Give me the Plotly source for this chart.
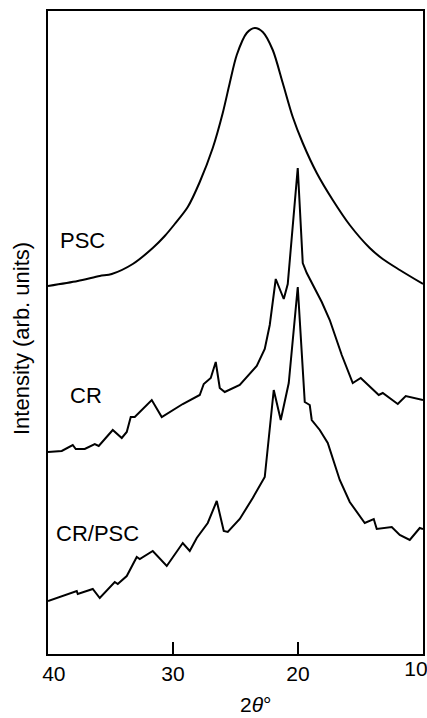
import plotly.graph_objects as go

# X-ray diffraction patterns, stacked vertically (arbitrary intensity units)
two_theta_psc = [40.0, 37.62, 35.86, 34.90, 33.22, 31.62, 30.66, 29.86, 28.82, 27.86,
                 26.82, 26.02, 25.46, 24.90, 24.10, 23.46, 22.82, 22.02, 21.22, 20.42,
                 19.62, 18.50, 17.22, 15.86, 14.26, 13.22, 11.86, 10.0]
intensity_psc = [368, 373, 378, 380, 390, 406, 418, 430, 447, 472,
                 506, 541, 571, 599, 621, 626, 622, 604, 571, 537,
                 511, 481, 454, 429, 406, 395, 384, 370]

two_theta_cr = [40.0, 38.90, 38.02, 37.78, 37.06, 36.26, 35.94, 35.30, 34.82, 34.10,
                33.70, 33.38, 33.06, 31.70, 30.90, 29.22, 27.86, 27.54, 26.98, 26.58,
                26.26, 25.86, 24.90, 24.66, 23.30, 22.66, 22.26, 21.78, 21.14, 20.82,
                20.02, 19.70, 19.62, 19.30, 18.10, 17.46, 16.50, 15.62, 14.98, 13.54,
                13.22, 12.02, 11.38, 10.0]
intensity_cr = [202, 203, 209, 205, 205, 210, 208, 217, 224, 216,
                222, 237, 237, 254, 237, 250, 259, 270, 276, 292,
                266, 262, 267, 269, 288, 305, 329, 375, 355, 370,
                486, 409, 391, 381, 352, 334, 299, 271, 276, 259,
                261, 250, 258, 254]

two_theta_crpsc = [40.0, 37.70, 37.62, 36.42, 35.86, 34.66, 34.42, 33.70, 32.90, 32.66,
                   31.62, 30.50, 29.22, 28.66, 28.10, 27.22, 26.50, 25.94, 25.62, 24.66,
                   23.62, 22.66, 21.94, 21.38, 20.74, 20.02, 19.46, 19.06, 18.90, 18.26,
                   17.62, 16.66, 15.86, 14.66, 13.94, 13.70, 12.50, 11.86, 11.06, 10.26,
                   10.0]
intensity_crpsc = [53, 63, 60, 65, 56, 72, 70, 78, 97, 95,
                   103, 88, 111, 103, 116, 131, 153, 123, 122, 135,
                   156, 177, 264, 234, 271, 367, 252, 249, 234, 224,
                   211, 174, 152, 131, 135, 125, 127, 119, 114, 126,
                   125]

sample_labels = ["PSC", "CR", "CR/PSC"]
label_two_theta = [37.22, 36.98, 36.02]
label_intensity = [414, 259, 121]

x_ticks = [40, 30, 20, 10]
x_tick_text = ["\u00a0\u00a040", "30", "20", ""]
# the right-hand end label lives on an overlaid axis so it can be nudged inside the frame
x_end_tick = [10]
x_end_text = ["10"]

FONT = "Liberation Sans, Arial, sans-serif"
TICK_FONT = dict(family=FONT, size=21, color="black")

fig = go.Figure()
fig.add_trace(go.Scatter(x=two_theta_psc, y=intensity_psc, mode="lines",
                         line=dict(color="black", width=2, shape="spline", smoothing=0.8),
                         name="PSC"))
fig.add_trace(go.Scatter(x=two_theta_cr, y=intensity_cr, mode="lines",
                         line=dict(color="black", width=2), name="CR"))
fig.add_trace(go.Scatter(x=two_theta_crpsc, y=intensity_crpsc, mode="lines",
                         line=dict(color="black", width=2), name="CR/PSC",
                         xaxis="x2"))

for text, xv, yv in zip(sample_labels, label_two_theta, label_intensity):
    fig.add_annotation(x=xv, y=yv, xref="x", yref="y", text=text, showarrow=False,
                       xanchor="center", yanchor="middle",
                       font=dict(family=FONT, size=22, color="black"))

# axis titles
fig.add_annotation(x=0.555, y=-0.078, xref="paper", yref="paper",
                   text="2<i>θ</i>°", showarrow=False, xanchor="center",
                   yanchor="middle",
                   font=dict(family=FONT, size=21, color="black"))
fig.add_annotation(x=-0.069, y=0.49, xref="paper", yref="paper",
                   text="Intensity (arb. units)", showarrow=False, textangle=-90,
                   xanchor="center", yanchor="middle",
                   font=dict(family=FONT, size=22, color="black"))

fig.update_layout(
    width=427, height=718,
    margin=dict(l=48, r=4, t=11, b=64),
    paper_bgcolor="white", plot_bgcolor="white",
    showlegend=False,
    font=dict(family=FONT, color="black"),
    xaxis=dict(range=[40, 10], tickvals=x_ticks, ticktext=x_tick_text,
               ticks="inside", ticklen=12, tickwidth=1.5, tickcolor="black",
               showline=True, linecolor="black", linewidth=2, mirror=True,
               showgrid=False, zeroline=False, ticklabeloverflow="allow",
               automargin=False, tickfont=TICK_FONT),
    xaxis2=dict(range=[40, 10], overlaying="x", anchor="y", side="bottom",
                tickvals=x_end_tick, ticktext=x_end_text, ticks="",
                showline=False, showgrid=False, zeroline=False,
                ticklabelshift=7, ticklabeloverflow="allow",
                automargin=False, tickfont=TICK_FONT),
    yaxis=dict(range=[0, 643], showticklabels=False, ticks="", showline=True,
               linecolor="black", linewidth=2, mirror=True, showgrid=False,
               zeroline=False, automargin=False),
)

fig.write_html("out.html")
